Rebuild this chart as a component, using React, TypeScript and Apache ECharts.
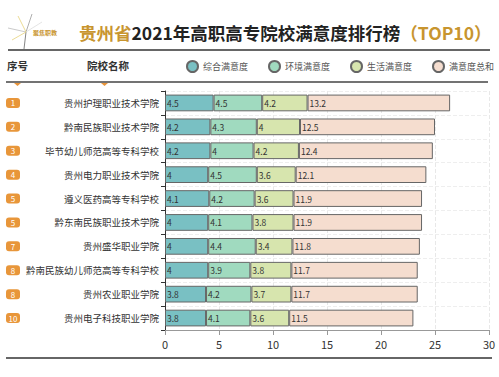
import React, { useEffect, useRef } from "react";
import * as echarts from "echarts";

const schools = [
  "贵州护理职业技术学院",
  "黔南民族职业技术学院",
  "毕节幼儿师范高等专科学校",
  "贵州电力职业技术学院",
  "遵义医药高等专科学校",
  "黔东南民族职业技术学院",
  "贵州盛华职业学院",
  "黔南民族幼儿师范高等专科学校",
  "贵州农业职业学院",
  "贵州电子科技职业学院",
];
const ranks = ["1", "2", "3", "4", "5", "5", "7", "8", "8", "10"];
const seriesNames = ["综合满意度", "环境满意度", "生活满意度", "满意度总和"];
const overall = [4.5, 4.2, 4.2, 4, 4.1, 4, 4, 4, 3.8, 3.8];
const environment = [4.5, 4.3, 4, 4.5, 4.2, 4.1, 4.4, 3.9, 4.2, 4.1];
const living = [4.2, 4, 4.2, 3.6, 3.6, 3.8, 3.4, 3.8, 3.7, 3.6];
const total = [13.2, 12.5, 12.4, 12.1, 11.9, 11.9, 11.8, 11.7, 11.7, 11.5];
const xTicks = [0, 5, 10, 15, 20, 25, 30];

const colors = ["#79c0c3", "#a0dabf", "#d7e5ae", "#f5ddcf"];
const FONT = "'Noto Sans CJK SC', 'Noto Sans', sans-serif";

export default function App() {
  const ref = useRef<HTMLDivElement>(null);
  useEffect(() => {
    const chart = echarts.init(ref.current!, null, { renderer: "svg" });
    const values = [overall, environment, living, total];
    chart.setOption({
      animation: false,
      textStyle: { fontFamily: FONT },
      title: {
        text: "{g|贵州省}{b|2021年高职高专院校满意度排行榜}{g|（TOP10）}",
        left: 74,
        top: 19,
        textStyle: {
          rich: {
            g: { color: "#c8952f", fontSize: 17.5, fontWeight: "bold", fontFamily: FONT },
            b: { color: "#222", fontSize: 17.5, fontWeight: "bold", fontFamily: FONT },
          },
        },
      },
      legend: {
        data: seriesNames,
        left: 186,
        top: 60,
        padding: 0,
        width: 313,
        icon: "circle",
        itemWidth: 11,
        itemHeight: 11,
        itemGap: 20,
        textStyle: { color: "#555", fontSize: 9, fontFamily: FONT },
      },
      grid: { left: 165, right: 10, top: 91, bottom: 47 },
      xAxis: {
        type: "value",
        min: 0,
        max: 30,
        interval: 5,
        axisLine: { show: true, lineStyle: { color: "#999" } },
        axisTick: { show: true, lineStyle: { color: "#999" } },
        axisLabel: {
          color: "#333",
          fontSize: 11,
          fontFamily: FONT,
          formatter: (v: number) => (xTicks.includes(v) ? String(v) : ""),
        },
        splitLine: { show: true, lineStyle: { color: "#e8e8e8", type: "dashed" } },
      },
      yAxis: [
        {
          type: "category",
          data: schools,
          inverse: true,
          axisLine: { show: true, lineStyle: { color: "#333" } },
          axisTick: { show: true, length: 4, lineStyle: { color: "#333" } },
          axisLabel: { color: "#333", fontSize: 9.5, fontFamily: FONT, margin: 6 },
          splitLine: { show: true, lineStyle: { color: "#eeeeee", type: "dashed" } },
        },
        {
          type: "category",
          data: ranks,
          inverse: true,
          position: "left",
          axisLine: { show: false },
          axisTick: { show: false },
          axisLabel: {
            margin: 159,
            align: "left",
            formatter: (v: string) => `{r|${v}}`,
            rich: {
              r: {
                backgroundColor: "#e8963a",
                color: "#fff",
                borderRadius: 3,
                width: 14,
                height: 10,
                align: "center",
                fontSize: 8,
                fontFamily: FONT,
              },
            },
          },
        },
      ],
      series: seriesNames.map((name, i) => ({
        name,
        type: "bar",
        stack: "all",
        yAxisIndex: 0,
        barWidth: "70%",
        data: values[i],
        itemStyle: { color: colors[i], borderColor: "#666", borderWidth: 1 },
        label: {
          show: true,
          position: "insideLeft",
          distance: 2,
          color: "#333",
          fontSize: 8.5,
          fontFamily: FONT,
        },
      })),
      graphic: [
        { type: "line", shape: { x1: 8, y1: 50, x2: 490, y2: 50 }, style: { stroke: "#333", lineWidth: 1.5 } },
        { type: "line", shape: { x1: 6, y1: 82, x2: 488, y2: 82 }, style: { stroke: "#444", lineWidth: 1.5 } },
        { type: "line", shape: { x1: 6, y1: 358, x2: 492, y2: 358 }, style: { stroke: "#333", lineWidth: 1.5 } },
        { type: "text", x: 7, y: 60, style: { text: "序号", fill: "#333", fontSize: 10.5, fontWeight: "bold", fontFamily: FONT } },
        { type: "text", x: 87, y: 60, style: { text: "院校名称", fill: "#333", fontSize: 10.5, fontWeight: "bold", fontFamily: FONT } },
        { type: "polygon", shape: { points: [[14, 83], [21, 83], [17.5, 86]] }, style: { fill: "#e8943a" } },
        { type: "polygon", shape: { points: [[101, 83], [108, 83], [104.5, 86]] }, style: { fill: "#e8943a" } },
        // logo
        { type: "line", shape: { x1: 26, y1: 32, x2: 8, y2: 28 }, style: { stroke: "#bbb", lineWidth: 0.8 } },
        { type: "line", shape: { x1: 26, y1: 32, x2: 24, y2: 49 }, style: { stroke: "#666", lineWidth: 0.8 } },
        { type: "line", shape: { x1: 26, y1: 32, x2: 32, y2: 14 }, style: { stroke: "#999", lineWidth: 0.8 } },
        { type: "line", shape: { x1: 26, y1: 32, x2: 18, y2: 16 }, style: { stroke: "#e6d27a", lineWidth: 0.8 } },
        { type: "line", shape: { x1: 26, y1: 32, x2: 12, y2: 40 }, style: { stroke: "#e6d27a", lineWidth: 0.8 } },
        { type: "line", shape: { x1: 26, y1: 32, x2: 42, y2: 22 }, style: { stroke: "#ddd", lineWidth: 0.8 } },
        { type: "text", x: 33, y: 29, style: { text: "聚焦职教", fill: "#c8952f", fontSize: 6, fontWeight: "bold", fontFamily: FONT } },
      ],
    });
    return () => chart.dispose();
  }, []);
  return (
    <div
      ref={ref}
      style={{ position: "absolute", left: 0, top: 0, width: 499, height: 377 }}
    />
  );
}
